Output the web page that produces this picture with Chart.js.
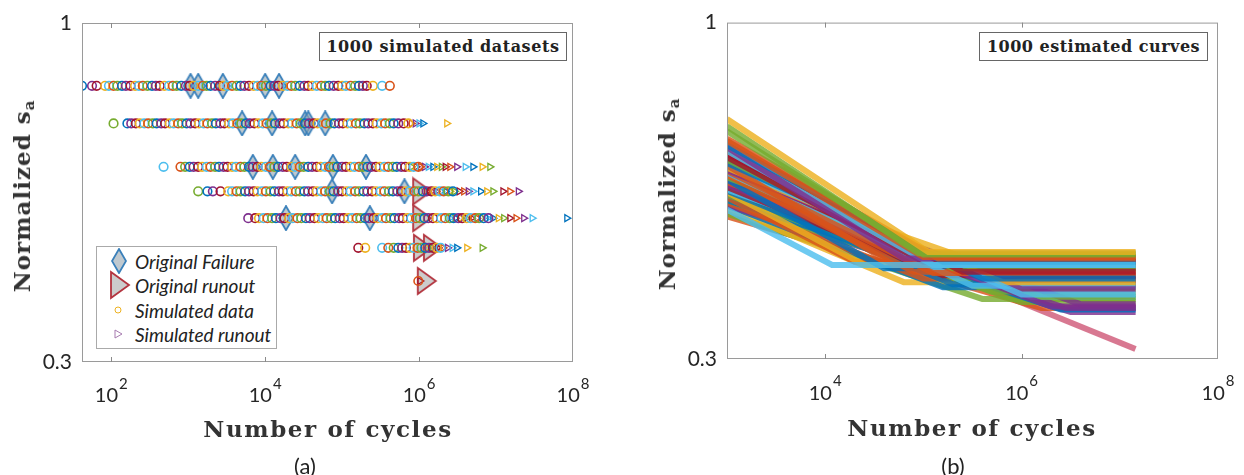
<!DOCTYPE html>
<html>
<head>
<meta charset="utf-8">
<script src="https://cdn.jsdelivr.net/npm/chart.js@4.4.0/dist/chart.umd.min.js"></script>
<style>
  body { margin: 0; background: #fff; width: 1244px; height: 475px; overflow: hidden; position: relative; font-family: Lato, sans-serif; color: #262626; }
  canvas { position: absolute; top: 0; }
  #chartA { left: 0; }
  #chartB { left: 620px; }
  .ylab { position: absolute; font-family: "DejaVu Serif", serif; font-weight: bold; font-size: 23px; letter-spacing: 1px; color: #333; white-space: nowrap; transform: translate(-50%, -50%) rotate(-90deg); }
  .ylab sub { font-size: 15px; vertical-align: -4px; }
  .xlab { position: absolute; font-family: "DejaVu Serif", serif; font-weight: bold; font-size: 23px; letter-spacing: 1.6px; color: #333; white-space: nowrap; transform: translate(-50%, -50%); }
  .cap { position: absolute; font-size: 22px; transform: translate(-50%, -50%); color: #222; }
  .note { position: absolute; top: 32px; height: 27px; border: 1px solid #666; background: #fff; font-family: "DejaVu Serif", serif; font-weight: bold; font-size: 16px; color: #222; line-height: 27px; text-align: center; white-space: nowrap; }
  .legend { position: absolute; left: 96px; top: 246px; width: 179px; height: 101px; border: 1px solid #aaa; background: #fff; }
  .legend div { position: absolute; left: 38px; font-style: italic; font-size: 19px; color: #222; transform: translateY(-50%); white-space: nowrap; }
  .legend canvas { position: absolute; }
</style>
</head>
<body>
<canvas id="chartA" width="620" height="475"></canvas>
<canvas id="chartB" width="624" height="475"></canvas>

<div class="ylab" style="left:23px; top:196px;">Normalized s<sub>a</sub></div>
<div class="ylab" style="left:668px; top:194px;">Normalized s<sub>a</sub></div>
<div class="xlab" style="left:328px; top:428px;">Number of cycles</div>
<div class="xlab" style="left:972px; top:427px;">Number of cycles</div>
<div class="cap" style="left:305px; top:465px;">(a)</div>
<div class="cap" style="left:953px; top:465px;">(b)</div>
<div class="note" style="left:319px; width:246px; letter-spacing:0.6px;">1000 simulated datasets</div>
<div class="note" style="left:979px; width:227px; letter-spacing:0.5px;">1000 estimated curves</div>

<div class="legend" id="legendA">
  <div style="top:14px;">Original Failure</div>
  <div style="top:38px;">Original runout</div>
  <div style="top:63px;">Simulated data</div>
  <div style="top:87px;">Simulated runout</div>
</div>

<script>
// ---------- panel (a): stress levels and log10(cycles) of the points ----------
const stressLevels = [0.8, 0.7, 0.6, 0.55, 0.5, 0.45, 0.4];

const simFailExp = [
  [1.62, 1.75, 1.81, 1.92, 1.97, 2.03, 2.08, 2.14, 2.19, 2.25, 2.31, 2.36, 2.41, 2.47, 2.53, 2.58, 2.63, 2.69, 2.75, 2.80, 2.85, 2.91, 2.97, 3.02, 3.07, 3.13, 3.19, 3.24, 3.29, 3.35, 3.41, 3.46, 3.51, 3.57, 3.63, 3.68, 3.73, 3.79, 3.85, 3.90, 3.95, 4.01, 4.07, 4.12, 4.17, 4.23, 4.29, 4.34, 4.39, 4.45, 4.51, 4.56, 4.61, 4.67, 4.73, 4.78, 4.83, 4.89, 4.95, 5.00, 5.05, 5.11, 5.17, 5.22, 5.27, 5.32, 5.40, 5.52, 5.62],
  [2.03, 2.21, 2.26, 2.32, 2.37, 2.43, 2.48, 2.54, 2.59, 2.65, 2.70, 2.76, 2.81, 2.87, 2.92, 2.98, 3.03, 3.09, 3.14, 3.20, 3.25, 3.31, 3.36, 3.42, 3.47, 3.53, 3.58, 3.64, 3.69, 3.75, 3.80, 3.86, 3.91, 3.97, 4.02, 4.08, 4.13, 4.19, 4.24, 4.30, 4.35, 4.41, 4.46, 4.52, 4.57, 4.63, 4.68, 4.74, 4.79, 4.85, 4.90, 4.96, 5.01, 5.07, 5.12, 5.18, 5.23, 5.29, 5.34, 5.40, 5.45, 5.51, 5.56, 5.62, 5.67, 5.73, 5.80, 5.86],
  [2.68, 2.90, 2.96, 3.02, 3.07, 3.13, 3.18, 3.24, 3.29, 3.35, 3.40, 3.46, 3.51, 3.57, 3.62, 3.68, 3.73, 3.79, 3.84, 3.90, 3.95, 4.01, 4.06, 4.12, 4.17, 4.23, 4.28, 4.34, 4.39, 4.45, 4.50, 4.56, 4.61, 4.67, 4.72, 4.78, 4.83, 4.89, 4.94, 5.00, 5.05, 5.11, 5.16, 5.22, 5.27, 5.33, 5.38, 5.44, 5.49, 5.55, 5.60, 5.66, 5.71, 5.77, 5.82, 5.88, 5.93, 5.99],
  [3.13, 3.25, 3.32, 3.42, 3.52, 3.57, 3.63, 3.68, 3.74, 3.79, 3.85, 3.90, 3.96, 4.01, 4.07, 4.12, 4.18, 4.23, 4.29, 4.34, 4.40, 4.45, 4.51, 4.56, 4.62, 4.67, 4.73, 4.78, 4.84, 4.89, 4.95, 5.00, 5.06, 5.11, 5.17, 5.22, 5.28, 5.33, 5.39, 5.44, 5.50, 5.55, 5.61, 5.66, 5.72, 5.77, 5.83, 5.88, 5.94, 5.99, 6.05, 6.10, 6.16, 6.21, 6.27, 6.32, 6.38, 6.44],
  [3.78, 3.87, 3.92, 3.98, 4.03, 4.09, 4.14, 4.20, 4.25, 4.31, 4.36, 4.42, 4.47, 4.53, 4.58, 4.64, 4.69, 4.75, 4.80, 4.86, 4.91, 4.97, 5.02, 5.08, 5.13, 5.19, 5.24, 5.30, 5.35, 5.41, 5.46, 5.52, 5.57, 5.63, 5.68, 5.74, 5.79, 5.85, 5.90, 5.96, 6.01, 6.07, 6.12, 6.18, 6.23, 6.29, 6.34, 6.40, 6.45, 6.51, 6.56, 6.62, 6.67, 6.73, 6.78, 6.84, 6.90],
  [5.21, 5.30, 5.52, 5.60, 5.67, 5.73, 5.78, 5.83, 5.88, 5.93, 5.98, 6.03, 6.08, 6.13, 6.18, 6.23, 6.28],
  [5.99]
];

const simRunoutExp = [
  [],
  [5.90, 5.95, 6.00, 6.05, 6.36],
  [5.90, 5.96, 6.02, 6.07, 6.12, 6.18, 6.23, 6.29, 6.34, 6.40, 6.49, 6.60, 6.70, 6.82, 6.92],
  [6.10, 6.16, 6.22, 6.28, 6.34, 6.40, 6.46, 6.52, 6.58, 6.64, 6.70, 6.80, 6.88, 6.96, 7.09, 7.18, 7.29],
  [6.40, 6.47, 6.54, 6.61, 6.68, 6.75, 6.82, 6.89, 6.96, 7.03, 7.10, 7.18, 7.26, 7.36, 7.47, 7.92],
  [6.10, 6.17, 6.24, 6.31, 6.37, 6.43, 6.49, 6.62, 6.82],
  [6.01]
];

const origFailExp = [
  [3.03, 3.13, 3.45, 4.00, 4.18],
  [3.70, 4.09, 4.52, 4.56, 4.78],
  [3.84, 4.10, 4.39, 4.88, 5.31],
  [4.87, 5.81],
  [4.27, 5.36],
  [],
  []
];

const origRunoutExp = [
  [],
  [],
  [],
  [6.04],
  [6.04],
  [6.05, 6.18],
  [6.10]
];

const xTicksA = [1e2, 1e4, 1e6, 1e8];
const xTicksB = [1e4, 1e6, 1e8];
const yTicks = [0.3, 1];
const yTickLabels = ['0.3', '1'];

// ---------- panel (b): bilinear curves  [stress at 1e3 cycles, log10 knee, fatigue limit] ----------
const curveStart = [0.512, 0.708, 0.690, 0.678, 0.660, 0.655, 0.645, 0.640, 0.632, 0.625, 0.618, 0.612, 0.605, 0.600, 0.600, 0.595, 0.590, 0.588, 0.585, 0.585, 0.580, 0.580, 0.575, 0.570, 0.570, 0.565, 0.560, 0.555, 0.550, 0.548, 0.545, 0.540, 0.540, 0.535, 0.530, 0.530, 0.525, 0.520, 0.520, 0.515, 0.505, 0.500, 0.610, 0.628, 0.564];
const curveKneeExp = [4.07, 5.05, 4.95, 5.00, 5.15, 5.00, 5.20, 4.80, 5.10, 5.40, 5.00, 5.30, 5.60, 4.70, 6.00, 5.80, 6.00, 5.10, 5.50, 5.70, 4.90, 5.40, 6.20, 4.60, 6.60, 5.90, 6.30, 5.20, 6.10, 5.30, 4.40, 5.70, 6.45, 4.30, 6.40, 6.00, 5.00, 6.50, 5.20, 4.80, 5.60, 6.20, 5.50, 5.30, 7.16];
const curveLimit = [0.420, 0.440, 0.438, 0.436, 0.430, 0.432, 0.425, 0.430, 0.420, 0.410, 0.425, 0.415, 0.400, 0.420, 0.378, 0.395, 0.385, 0.408, 0.390, 0.398, 0.410, 0.432, 0.375, 0.415, 0.365, 0.390, 0.362, 0.405, 0.375, 0.392, 0.420, 0.382, 0.360, 0.425, 0.358, 0.368, 0.400, 0.355, 0.388, 0.395, 0.372, 0.360, 0.400, 0.418, 0.311];
const curveStartN = 1e3;
const curveEndN = 1.45e7;

// ---------- styling ----------
const C = { blue: '#0072BD', orange: '#D95319', yellow: '#EDB120', purple: '#7E2F8E', green: '#77AC30', cyan: '#4DBEEE', wine: '#A2142F' };
const palette = [C.blue, C.orange, C.yellow, C.purple, C.green, C.cyan, C.wine];
const curveColors = [C.cyan, C.yellow, C.green, C.green, C.orange, C.orange, C.blue, C.purple, C.cyan, C.wine, C.wine,
  C.green, C.blue, C.orange, C.cyan, C.yellow, C.purple, C.orange, C.cyan, C.wine, C.orange,
  C.yellow, C.green, C.blue, C.purple, C.orange, C.purple, C.wine, C.cyan, C.blue, C.yellow,
  C.green, C.purple, C.orange, C.blue, C.green, C.orange, C.purple, C.blue, C.yellow,
  C.green, C.orange, C.orange, C.orange, '#cf5a78'];

function diamondMarker() {
  const c = document.createElement('canvas');
  c.width = 16; c.height = 26;
  const g = c.getContext('2d');
  g.beginPath();
  g.moveTo(8, 1); g.lineTo(15, 13); g.lineTo(8, 25); g.lineTo(1, 13); g.closePath();
  g.fillStyle = 'rgba(150,165,175,0.6)';
  g.fill();
  g.strokeStyle = '#3a80ba'; g.lineWidth = 1.8; g.stroke();
  return c;
}
function runoutMarker() {
  const c = document.createElement('canvas');
  c.width = 22; c.height = 30;
  const g = c.getContext('2d');
  g.beginPath();
  g.moveTo(2, 2); g.lineTo(20, 15); g.lineTo(2, 28); g.closePath();
  g.fillStyle = 'rgba(170,170,170,0.6)';
  g.fill();
  g.strokeStyle = '#b3343f'; g.lineWidth = 1.8; g.stroke();
  return c;
}
const diamond = diamondMarker();
const bigTri = runoutMarker();

function rowsToPoints(rows) {
  const pts = [];
  rows.forEach((row, r) => row.forEach(e => pts.push({ x: Math.pow(10, e), y: stressLevels[r] })));
  return pts;
}
const simFailPts = rowsToPoints(simFailExp);
const simRunPts = rowsToPoints(simRunoutExp);

// inward ticks, box, and 10^n labels
const frame = {
  id: 'frame',
  afterDraw(chart, args, opts) {
    const { ctx, chartArea: a, scales: { x } } = chart;
    ctx.save();
    ctx.strokeStyle = '#9a9a9a';
    ctx.lineWidth = 1;
    ctx.strokeRect(a.left + 0.5, a.top + 0.5, a.right - a.left - 1, a.bottom - a.top - 1);
    ctx.strokeStyle = '#8a8a8a';
    x.ticks.forEach(t => {
      const px = Math.round(x.getPixelForValue(t.value)) + 0.5;
      if (px < a.left + 3 || px > a.right - 3) return;
      ctx.beginPath();
      ctx.moveTo(px, a.bottom); ctx.lineTo(px, a.bottom - 5);
      ctx.moveTo(px, a.top); ctx.lineTo(px, a.top + 5);
      ctx.stroke();
    });
    ctx.fillStyle = '#262626';
    ctx.textBaseline = 'alphabetic';
    ctx.textAlign = 'left';
    x.ticks.forEach(t => {
      const px = x.getPixelForValue(t.value);
      const ex = String(Math.round(Math.log10(t.value)));
      ctx.font = '20px Lato';
      const w1 = ctx.measureText('10').width;
      ctx.font = '15px Lato';
      const w2 = ctx.measureText(ex).width;
      const x0 = px - (w1 + w2 + 1) / 2;
      ctx.font = '20px Lato';
      ctx.fillText('10', x0, a.bottom + opts.base);
      ctx.font = '15px Lato';
      ctx.fillText(ex, x0 + w1 + 1, a.bottom + opts.sup);
    });
    ctx.restore();
  }
};

function axes(xMin, xMax, xTicks, yWidth, xHeight) {
  return {
    x: {
      type: 'logarithmic', min: xMin, max: xMax,
      afterBuildTicks: s => { s.ticks = xTicks.map(v => ({ value: v })); },
      ticks: { display: false },
      grid: { display: false, drawTicks: false }, border: { display: false },
      afterFit: s => { s.height = xHeight; }
    },
    y: {
      type: 'logarithmic', min: 0.3, max: 1,
      afterBuildTicks: s => { s.ticks = yTicks.map(v => ({ value: v })); },
      ticks: { callback: (v, i) => yTickLabels[i], font: { family: 'Lato', size: 21 }, color: '#262626', padding: 10 },
      grid: { display: false, drawTicks: false }, border: { display: false },
      afterFit: s => { s.width = yWidth; }
    }
  };
}

new Chart(document.getElementById('chartA'), {
  type: 'scatter',
  data: {
    datasets: [
      {
        label: 'Simulated data', data: simFailPts,
        pointStyle: 'circle', pointRadius: 4.3, borderWidth: 1.6,
        backgroundColor: 'rgba(0,0,0,0)',
        borderColor: simFailPts.map((p, i) => palette[(i * 3) % 7])
      },
      {
        label: 'Simulated runout', data: simRunPts,
        pointStyle: 'triangle', pointRotation: 90, pointRadius: 4, borderWidth: 1.3,
        backgroundColor: 'rgba(0,0,0,0)',
        borderColor: simRunPts.map((p, i) => palette[(i * 2 + 1) % 7])
      },
      { label: 'Original Failure', data: rowsToPoints(origFailExp), pointStyle: diamond },
      { label: 'Original runout', data: rowsToPoints(origRunoutExp), pointStyle: bigTri }
    ]
  },
  options: {
    responsive: false, animation: false,
    layout: { padding: { top: 23, right: 47, left: 0, bottom: 0 } },
    plugins: { legend: { display: false }, tooltip: { enabled: false }, frame: { base: 40, sup: 27 } },
    scales: axes(Math.pow(10, 1.62), 1e8, xTicksA, 82, 113)
  },
  plugins: [frame]
});

const curveSets = curveStart.map((s0, i) => ({
  label: 'curve ' + (i + 1),
  data: [
    { x: curveStartN, y: s0 },
    { x: Math.pow(10, curveKneeExp[i]), y: curveLimit[i] },
    { x: curveEndN, y: curveLimit[i] }
  ],
  showLine: true, pointRadius: 0, borderWidth: 6,
  borderColor: curveColors[i] + 'd0'
}));

new Chart(document.getElementById('chartB'), {
  type: 'scatter',
  data: { datasets: curveSets },
  options: {
    responsive: false, animation: false,
    layout: { padding: { top: 21, right: 26, left: 0, bottom: 0 } },
    plugins: { legend: { display: false }, tooltip: { enabled: false }, frame: { base: 41, sup: 27 } },
    scales: axes(1e3, 1e8, xTicksB, 107, 116)
  },
  plugins: [frame]
});

// legend symbols
function legendSymbol(top, draw) {
  const c = document.createElement('canvas');
  c.width = 26; c.height = 30;
  c.style.left = '9px'; c.style.top = (top - 15) + 'px';
  draw(c.getContext('2d'));
  document.getElementById('legendA').appendChild(c);
}
legendSymbol(14, g => g.drawImage(diamond, 5, 2));
legendSymbol(38, g => g.drawImage(bigTri, 3, 0));
legendSymbol(63, g => { g.strokeStyle = C.yellow; g.lineWidth = 1; g.beginPath(); g.arc(12, 15, 3, 0, Math.PI * 2); g.stroke(); });
legendSymbol(87, g => { g.strokeStyle = '#a77bb0'; g.lineWidth = 1; g.beginPath(); g.moveTo(9, 11); g.lineTo(16, 15); g.lineTo(9, 19); g.closePath(); g.stroke(); });
</script>
</body>
</html>
